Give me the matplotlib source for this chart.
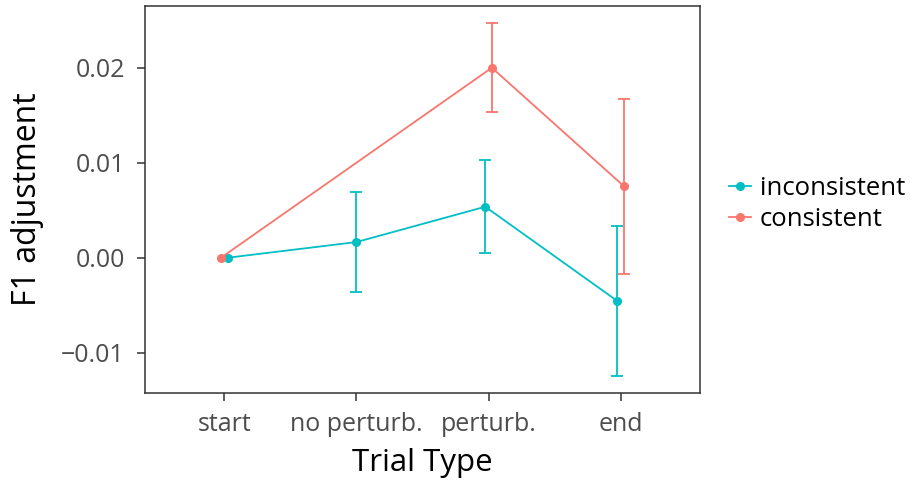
import matplotlib
matplotlib.use("Agg")
import matplotlib.pyplot as plt
import numpy as np

plt.rcParams['font.family'] = ['Open Sans', 'DejaVu Sans']

categories = ["start", "no perturb.", "perturb.", "end"]

# inconsistent series
inc_x = [0, 1, 2, 3]
inc_y = [0.0, 0.00165, 0.00537, -0.00456]
inc_lo = [0.0, -0.00364, 0.00046, -0.01245]
inc_hi = [0.0, 0.0069, 0.01028, 0.0033]

# consistent series (no value at "no perturb.")
con_x = [0, 2, 3]
con_y = [0.0, 0.0200, 0.00752]
con_lo = [0.0, 0.01537, -0.00168]
con_hi = [0.0, 0.02467, 0.0167]

yticks = [-0.01, 0.00, 0.01, 0.02]
ytick_labels = ["\u22120.01", "0.00", "0.01", "0.02"]

col_inc = "#00BFC4"
col_con = "#F8766D"

# small horizontal dodge per point (in category units)
inc_dodge = [0.025, 0.0, -0.025, -0.025]
con_dodge = [-0.025, 0.025, 0.025]

fig = plt.figure(figsize=(9.12, 4.82), dpi=100)
ax = fig.add_axes([145/912, 1-393.3/482, (700-145)/912, (393.3-5.7)/482])

def draw(xs, ys, lo, hi, dodge, color, label):
    xp = np.array(xs, dtype=float) + np.array(dodge)
    ys = np.array(ys); lo = np.array(lo); hi = np.array(hi)
    ax.plot(xp, ys, color=color, lw=1.3, marker='o', ms=5.5, label=label, zorder=3)
    mask = (hi - lo) > 0
    ax.errorbar(xp[mask], ys[mask], yerr=[ys[mask]-lo[mask], hi[mask]-ys[mask]],
                fmt='none', ecolor=color, elinewidth=1.3, capsize=4.5, capthick=1.3, zorder=2)

draw(inc_x, inc_y, inc_lo, inc_hi, inc_dodge, col_inc, "inconsistent")
draw(con_x, con_y, con_lo, con_hi, con_dodge, col_con, "consistent")

ax.set_xlim(-0.6, 3.6)
ax.set_ylim(-0.01427, 0.02653)
ax.set_xticks(range(len(categories)))
ax.set_xticklabels(categories)
ax.set_yticks(yticks)
ax.set_yticklabels(ytick_labels)

for s in ax.spines.values():
    s.set_color("#333333")
    s.set_linewidth(1.1)
ax.tick_params(axis='both', colors="#333333", length=5.5, width=1.1, labelsize=18,
               labelcolor="#4D4D4D")
ax.tick_params(axis='x', pad=8)
ax.tick_params(axis='y', pad=9)

ax.set_xlabel("Trial Type", fontsize=22.5, color="black", labelpad=8)
ax.set_ylabel("F1 adjustment", fontsize=23, color="black", labelpad=12)

leg = fig.legend(loc='center left',
                 bbox_to_anchor=(729/912, 1-204/482), frameon=False, fontsize=18.5,
                 handlelength=0.85, handletextpad=0.35, labelspacing=0.2,
                 borderaxespad=0, borderpad=0)
fig.savefig("out.png", dpi=100)
